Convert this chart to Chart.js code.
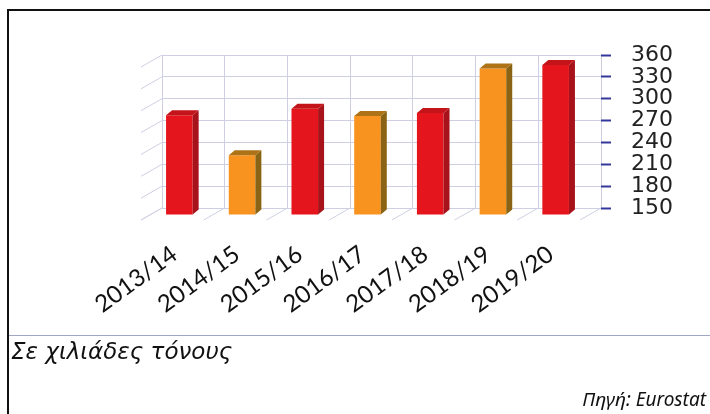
<!DOCTYPE html>
<html lang="el">
<head>
  <meta charset="UTF-8" />
  <title>Σε χιλιάδες τόνους</title>
  <script src="https://cdn.jsdelivr.net/npm/chart.js"></script>
  <style>
    html, body { margin: 0; padding: 0; background: #fff; }
    body { width: 710px; height: 414px; position: relative; overflow: hidden; }
    #frame { position: absolute; left: 7px; top: 9px; width: 720px; height: 430px; border: 2px solid #111; box-sizing: border-box; }
    #chart { position: absolute; left: 0; top: 0; }
    .sep { position: absolute; left: 9px; right: 0; top: 335px; border-top: 1px solid #9ea8c6; }
    .unit { position: absolute; left: 11px; top: 338px; font-family: "DejaVu Sans"; font-style: oblique 12deg; font-size: 23px; color: #111; }
    .source { position: absolute; right: 4px; top: 386px; font: italic 19px "Noto Sans"; color: #111; }
  </style>
</head>
<body>
  <div id="frame"></div>
  <canvas id="chart" width="710" height="414"></canvas>
  <div class="sep"></div>
  <div class="unit">Σε χιλιάδες τόνους</div>
  <div class="source">Πηγή: Eurostat</div>

  <script>
    const categories = ['2013/14', '2014/15', '2015/16', '2016/17', '2017/18', '2018/19', '2019/20'];
    const values = [287, 232, 296, 286, 290, 351, 356];
    const yTicks = [150, 180, 210, 240, 270, 300, 330, 360];

    // red / orange alternate
    const frontColors = ['#e4151c', '#f8931f', '#e4151c', '#f8931f', '#e4151c', '#f8931f', '#e4151c'];
    const sideColors  = ['#a8121a', '#8a6414', '#a8121a', '#8a6414', '#a8121a', '#8a6414', '#a8121a'];
    const topColors   = ['#c3141a', '#ad7316', '#c3141a', '#ad7316', '#c3141a', '#ad7316', '#c3141a'];

    const GRID = '#cfcfe4';
    const FRONT = { dx: -14, dy: 7 };   // bars sit in front of the back wall
    const DEPTH = { dx: 6, dy: -5 };    // bar thickness
    const WALL = { dx: -21, dy: 12 };   // side wall / floor depth

    const depth3d = {
      id: 'depth3d',
      beforeDatasetsDraw(chart) {
        const { ctx, chartArea: a, scales: { y } } = chart;
        ctx.save();
        ctx.strokeStyle = GRID;
        ctx.lineWidth = 1;
        ctx.beginPath();
        yTicks.forEach(t => {
          const py = y.getPixelForValue(t);
          ctx.moveTo(a.left, py);
          ctx.lineTo(a.left + WALL.dx, py + WALL.dy);
        });
        for (let i = 0; i <= categories.length; i++) {
          const px = a.left + (a.right - a.left) * i / categories.length;
          ctx.moveTo(px, a.bottom);
          ctx.lineTo(px + WALL.dx, a.bottom + WALL.dy);
        }
        ctx.stroke();
        ctx.restore();
        ctx.save();
        ctx.translate(FRONT.dx, FRONT.dy);
      },
      afterDatasetsDraw(chart) {
        const { ctx } = chart;
        chart.getDatasetMeta(0).data.forEach((bar, i) => {
          const { x, y, base, width } = bar.getProps(['x', 'y', 'base', 'width'], true);
          const l = x - width / 2, r = x + width / 2;
          ctx.fillStyle = sideColors[i];
          ctx.beginPath();
          ctx.moveTo(r, y);
          ctx.lineTo(r + DEPTH.dx, y + DEPTH.dy);
          ctx.lineTo(r + DEPTH.dx, base + DEPTH.dy);
          ctx.lineTo(r, base);
          ctx.closePath();
          ctx.fill();
          ctx.fillStyle = topColors[i];
          ctx.beginPath();
          ctx.moveTo(l, y);
          ctx.lineTo(l + DEPTH.dx, y + DEPTH.dy);
          ctx.lineTo(r + DEPTH.dx, y + DEPTH.dy);
          ctx.lineTo(r, y);
          ctx.closePath();
          ctx.fill();
        });
        ctx.restore();
      }
    };

    new Chart(document.getElementById('chart'), {
      type: 'bar',
      data: {
        labels: categories,
        datasets: [{
          data: values,
          base: yTicks[0],
          backgroundColor: frontColors,
          borderWidth: 0,
          barPercentage: 0.424,
          categoryPercentage: 1,
          clip: false
        }]
      },
      options: {
        responsive: false,
        animation: false,
        layout: { padding: { left: 162, top: 55, right: 29, bottom: 0 } },
        plugins: { legend: { display: false }, tooltip: { enabled: false } },
        scales: {
          x: {
            grid: { color: GRID, drawTicks: false },
            border: { display: false },
            ticks: {
              autoSkip: false,
              minRotation: 36,
              maxRotation: 36,
              labelOffset: -19,
              padding: 32,
              color: '#111',
              font: { family: 'Lato', size: 24 }
            },
            afterFit(scale) { scale.height = 206; }
          },
          y: {
            position: 'right',
            min: yTicks[0],
            max: yTicks[yTicks.length - 1],
            grid: { color: GRID, tickColor: '#33399a', tickLength: 10, tickWidth: 2 },
            border: { display: false },
            ticks: {
              stepSize: yTicks[1] - yTicks[0],
              autoSkip: false,
              padding: 20,
              color: '#222',
              font: { family: 'DejaVu Sans', size: 22 }
            },
            afterFit(scale) { scale.width = 80; }
          }
        }
      },
      plugins: [depth3d]
    });
  </script>
</body>
</html>
